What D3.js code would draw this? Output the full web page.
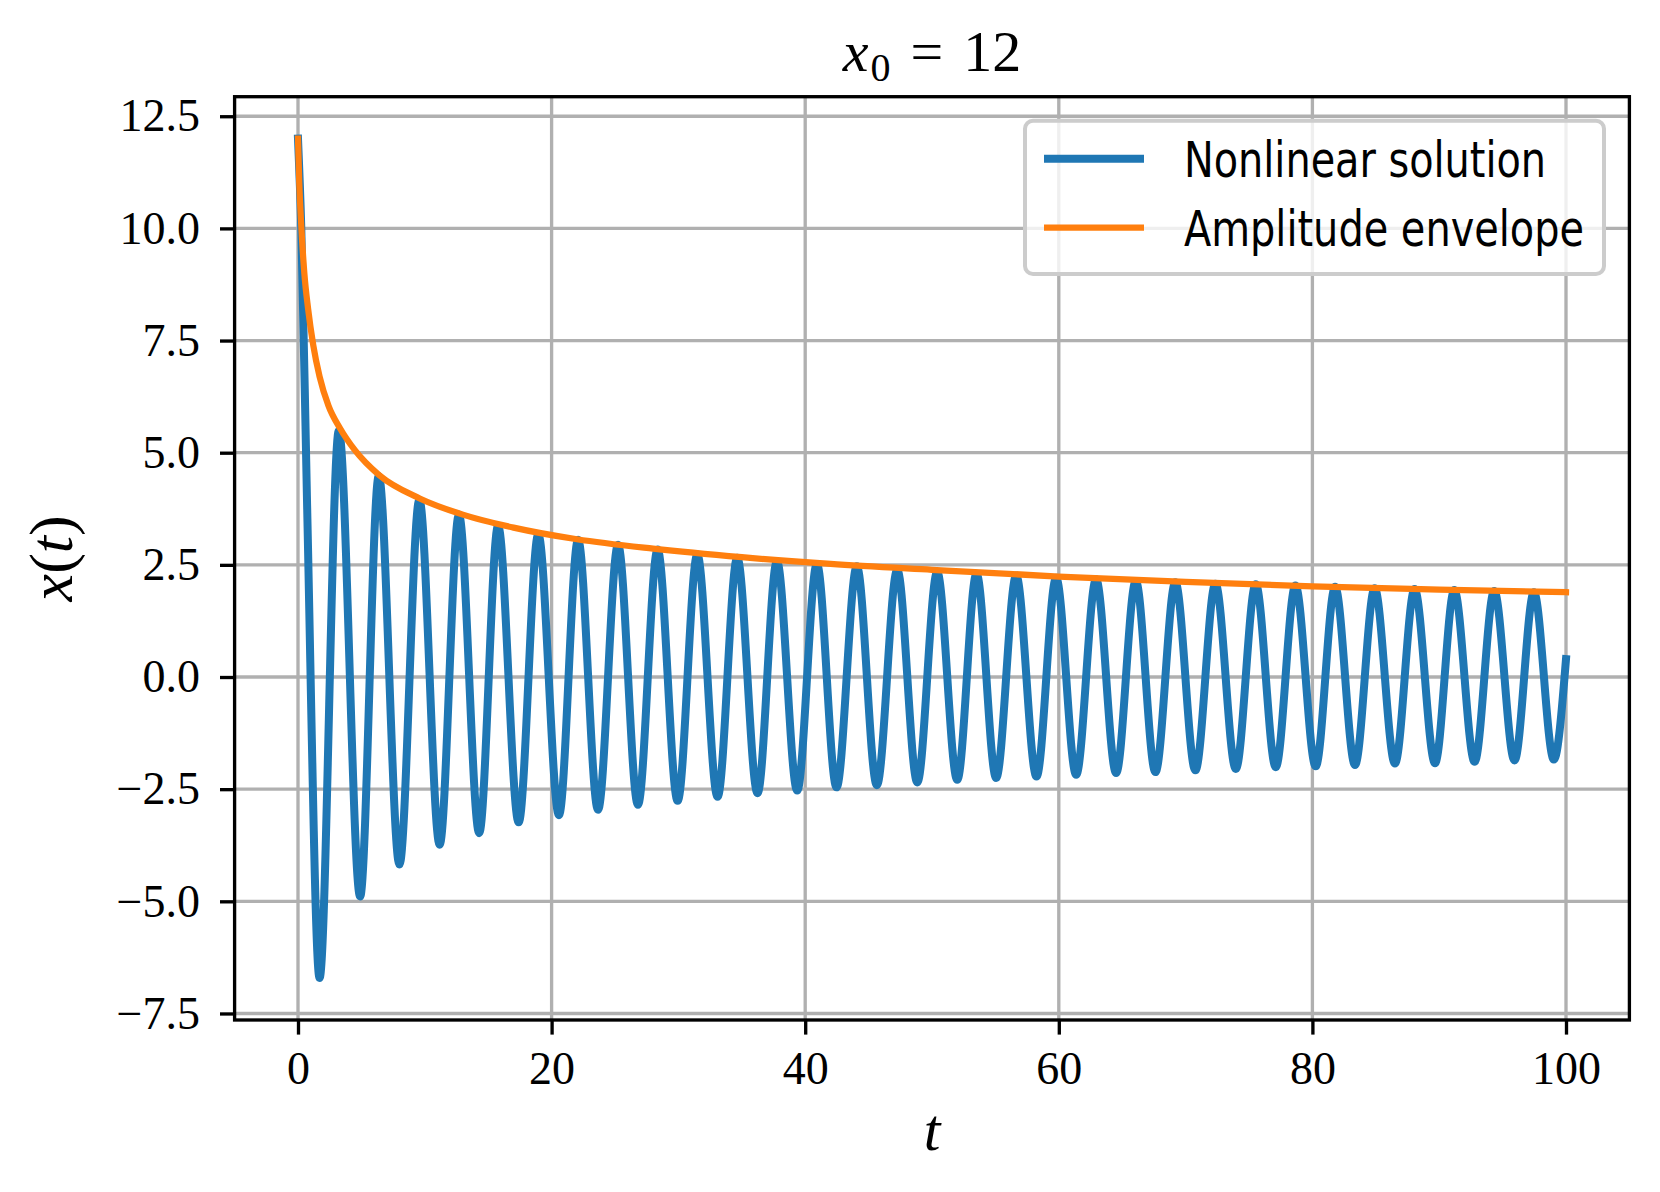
<!DOCTYPE html>
<html><head><meta charset="utf-8">
<script src="https://cdn.jsdelivr.net/npm/d3@7"></script>
<style>
html,body{margin:0;padding:0;background:#fff;}
svg{display:block;}
</style></head>
<body>
<svg id="chart" width="1660" height="1192"></svg>
<script>
// ---- data ----
const xTicks = [0, 20, 40, 60, 80, 100];
const yTicks = [-7.5, -5.0, -2.5, 0.0, 2.5, 5.0, 7.5, 10.0, 12.5];
const seriesNames = ["Nonlinear solution", "Amplitude envelope"];

// Nonlinear solution: start, extrema (peaks/troughs) and end point
const solT = [0, 0.26, 0.71, 1.70, 3.22, 4.90, 6.37, 8.0, 9.57, 11.17, 12.69, 14.29, 15.78, 17.4, 18.95,
  20.58, 22.09, 23.66, 25.24, 26.81, 28.36, 29.94, 31.49, 33.09, 34.64, 36.24, 37.77, 39.37,
  40.92, 42.47, 44.07, 45.65, 47.26, 48.84, 50.41, 51.99, 53.51, 55.06, 56.64, 58.24, 59.79,
  61.37, 62.94, 64.52, 66.07, 67.62, 69.19, 70.77, 72.35, 73.96, 75.53, 77.11, 78.66, 80.26,
  81.79, 83.36, 84.91, 86.51, 88.06, 89.67, 91.19, 92.79, 94.34, 95.94, 97.47, 99.04, 100];
const solX = [12.0, 10.0, 3.94, -6.71, 5.49, -4.89, 4.48, -4.18, 3.95, -3.74, 3.62, -3.48, 3.37, -3.24, 3.18,
  -3.08, 3.06, -2.96, 2.95, -2.85, 2.84, -2.76, 2.73, -2.67, 2.66, -2.59, 2.58, -2.53,
  2.52, -2.46, 2.47, -2.41, 2.39, -2.35, 2.34, -2.29, 2.30, -2.25, 2.26, -2.22, 2.21,
  -2.18, 2.18, -2.14, 2.14, -2.12, 2.11, -2.08, 2.08, -2.05, 2.07, -2.01, 2.04, -1.99,
  2.01, -1.96, 1.98, -1.93, 1.96, -1.92, 1.94, -1.89, 1.92, -1.86, 1.89, -1.84, 0.40];

// Amplitude envelope samples
const envT = [0, 0.1, 0.25, 0.5, 0.8, 1.2, 1.7, 2.4, 3.3, 4.5, 6.4, 9.6, 13, 17, 22, 28, 35, 42, 50, 60, 70, 80, 90, 100];
const envX = [12.0, 11.0, 10.1, 9.0, 8.2, 7.4, 6.7, 6.05, 5.55, 5.05, 4.5, 3.98, 3.62, 3.33, 3.07, 2.86, 2.67, 2.52, 2.39, 2.24, 2.12, 2.02, 1.95, 1.89];

// ---- layout ----
const L = 234.6, R = 1629.4, T = 96.7, B = 1020;
const LW = 3.33;
const svg = d3.select("#chart");

const tExt = d3.extent(solT), tPad = 0.05 * (tExt[1] - tExt[0]);
const vExt = d3.extent(solX.concat(envX)), vPad = 0.05 * (vExt[1] - vExt[0]);
const x = d3.scaleLinear().domain([tExt[0] - tPad, tExt[1] + tPad]).range([L, R]);
const y = d3.scaleLinear().domain([vExt[0] - vPad, vExt[1] + vPad]).range([B, T]);

const serif = "'Liberation Serif', 'DejaVu Serif', serif";
const fmt = v => (v < 0 ? "\u2212" : "") + Math.abs(v).toFixed(1);

// grid
const grid = svg.append("g");
grid.selectAll("line.gx").data(xTicks).join("line").attr("class","gx")
  .attr("x1", d => x(d)).attr("x2", d => x(d)).attr("y1", T).attr("y2", B)
  .attr("stroke", "#b0b0b0").attr("stroke-width", LW);
grid.selectAll("line.gy").data(yTicks).join("line").attr("class","gy")
  .attr("x1", L).attr("x2", R).attr("y1", d => y(d)).attr("y2", d => y(d))
  .attr("stroke", "#b0b0b0").attr("stroke-width", LW);

// series
const sol = solT.map((t, i) => ({t, v: solX[i]}));
const env = envT.map((t, i) => ({t, v: envX[i]}));
const line = d3.line().x(d => x(d.t)).y(d => y(d.v)).curve(d3.curveMonotoneX);
svg.append("path").attr("d", line(sol)).attr("fill", "none")
  .attr("stroke", "#1f77b4").attr("stroke-width", 8).attr("stroke-linejoin", "round").attr("stroke-linecap", "square");
svg.append("path").attr("d", line(env)).attr("fill", "none")
  .attr("stroke", "#ff7f0e").attr("stroke-width", 6.25).attr("stroke-linejoin", "round").attr("stroke-linecap", "square");

// axes
const xAxis = d3.axisBottom(x).tickValues(xTicks).tickSize(14.6).tickPadding(17).tickFormat(d => String(d));
const gx = svg.append("g").attr("transform", `translate(0,${B})`).call(xAxis);
const yAxis = d3.axisLeft(y).tickValues(yTicks).tickSize(14.6).tickPadding(20).tickFormat(fmt);
const gy = svg.append("g").attr("transform", `translate(${L},0)`).call(yAxis);
[gx, gy].forEach(g => {
  g.select(".domain").remove();
  g.selectAll(".tick line").attr("stroke", "#000").attr("stroke-width", LW);
  g.selectAll(".tick text").attr("fill", "#000").attr("font-family", serif).attr("font-size", 46);
});

// spines
svg.append("rect").attr("x", L).attr("y", T).attr("width", R - L).attr("height", B - T)
  .attr("fill", "none").attr("stroke", "#000").attr("stroke-width", LW);

// title  x_0 = 12
const title = svg.append("text").attr("x", (L + R) / 2).attr("y", 71).attr("text-anchor", "middle")
  .attr("font-family", serif).attr("font-size", 58).attr("fill", "#000");
title.append("tspan").attr("font-style", "italic").text("x");
title.append("tspan").attr("font-size", 40).attr("dy", 10).attr("dx", 2).text("0");
title.append("tspan").attr("dy", -10).attr("dx", 20).text("=");
title.append("tspan").attr("dx", 20).text("12");

// x label
svg.append("text").attr("x", (L + R) / 2).attr("y", 1150).attr("text-anchor", "middle")
  .attr("font-family", serif).attr("font-size", 60).attr("font-style", "italic").attr("fill", "#000").text("t");

// y label
const yl = svg.append("text").attr("transform", `translate(72,${(T + B) / 2}) rotate(-90)`)
  .attr("text-anchor", "middle").attr("font-family", serif).attr("font-size", 62).attr("fill", "#000");
yl.append("tspan").attr("font-style", "italic").text("x");
yl.append("tspan").text("(");
yl.append("tspan").attr("font-style", "italic").text("t");
yl.append("tspan").text(")");

// legend
const lg = svg.append("g");
lg.append("rect").attr("x", 1025).attr("y", 120.7).attr("width", 579).attr("height", 153.3)
  .attr("rx", 8).attr("fill", "#fff").attr("fill-opacity", 0.8).attr("stroke", "#cccccc").attr("stroke-width", 4);
const legColors = ["#1f77b4", "#ff7f0e"], legW = [8, 6.25], legLen = [362, 400];
seriesNames.forEach((name, i) => {
  const cy = 158.8 + i * 68.8;
  lg.append("line").attr("x1", 1044).attr("x2", 1144).attr("y1", cy).attr("y2", cy)
    .attr("stroke", legColors[i]).attr("stroke-width", legW[i]);
  lg.append("text").attr("x", 1184).attr("y", cy + 18)
    .attr("font-family", "'Liberation Sans Narrow', 'DejaVu Sans Condensed', 'Liberation Sans', sans-serif")
    .attr("font-size", 50).attr("fill", "#000")
    .attr("textLength", legLen[i]).attr("lengthAdjust", "spacingAndGlyphs").text(name);
});
</script>
</body></html>
